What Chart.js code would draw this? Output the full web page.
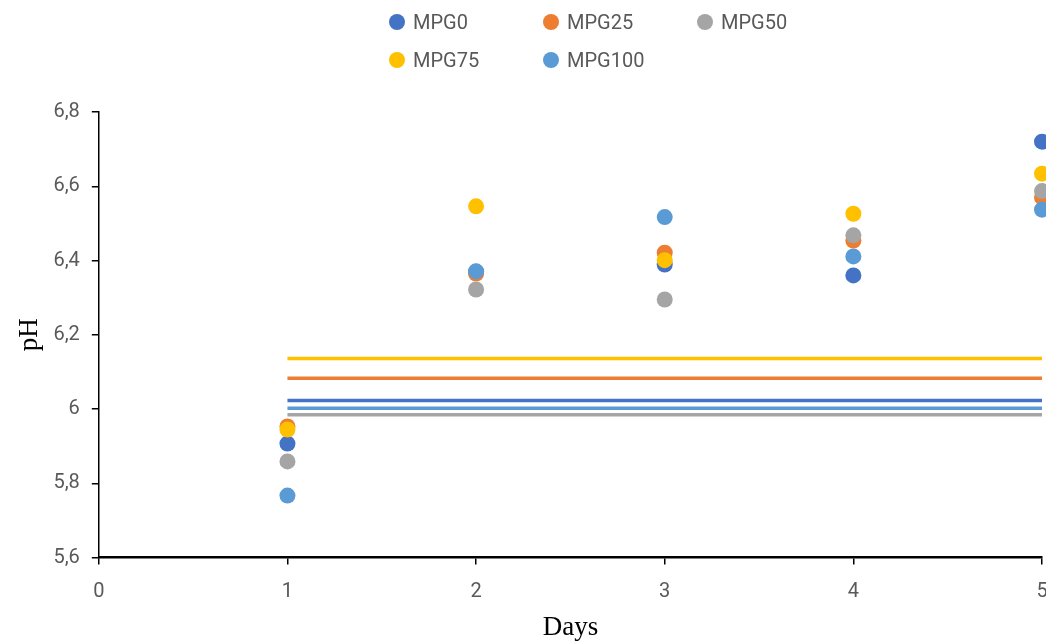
<!DOCTYPE html>
<html lang="en">
<head>
  <meta charset="UTF-8" />
  <title>pH vs Days</title>
  <script src="https://cdn.jsdelivr.net/npm/chart.js"></script>
  <style>
    html, body { margin: 0; padding: 0; background: #fff; }
    #wrap { position: relative; width: 1046px; height: 644px; }
    #legend {
      position: absolute; top: 3px; left: 389px; width: 462px;
      display: flex; flex-wrap: wrap;
      font: 20px 'Roboto', sans-serif; color: #595959;
    }
    .item { width: 154px; height: 38px; display: flex; align-items: center; }
    .dot { width: 16px; height: 16px; border-radius: 50%; margin-right: 8px; }
  </style>
</head>
<body>
  <div id="wrap">
    <canvas id="phChart" width="1046" height="644"></canvas>
    <div id="legend"></div>
  </div>

  <script>
    // data
    const days = [1, 2, 3, 4, 5];
    const seriesNames = ['MPG0', 'MPG25', 'MPG50', 'MPG75', 'MPG100'];
    const mpg0   = [5.907, 6.370, 6.389, 6.360, 6.720];
    const mpg25  = [5.953, 6.365, 6.421, 6.454, 6.570];
    const mpg50  = [5.859, 6.322, 6.295, 6.468, 6.587];
    const mpg75  = [5.945, 6.546, 6.401, 6.526, 6.634];
    const mpg100 = [5.767, 6.371, 6.517, 6.411, 6.537];
    // horizontal reference levels (one per series)
    const refLevels = [6.023, 6.083, 5.985, 6.136, 6.002];
    const yTicks = [5.6, 5.8, 6.0, 6.2, 6.4, 6.6, 6.8];

    const colors = ['#4472C4', '#ED7D31', '#A5A5A5', '#FFC000', '#5B9BD5'];
    const allSeries = [mpg0, mpg25, mpg50, mpg75, mpg100];

    const pointSets = seriesNames.map((name, i) => ({
      label: name,
      data: days.map((d, j) => ({ x: d, y: allSeries[i][j] })),
      backgroundColor: colors[i],
      borderColor: colors[i],
      pointRadius: 8,
      pointHoverRadius: 8,
      borderWidth: 0,
      showLine: false,
      clip: false,
      order: seriesNames.length - 1 - i
    }));

    const lineSets = seriesNames.map((name, i) => ({
      label: name + ' ref',
      data: [{ x: days[0], y: refLevels[i] }, { x: days[days.length - 1], y: refLevels[i] }],
      borderColor: colors[i],
      borderWidth: 3.5,
      pointRadius: 0,
      showLine: true,
      order: 10
    }));

    // legend
    const legendEl = document.getElementById('legend');
    seriesNames.forEach((name, i) => {
      const item = document.createElement('div');
      item.className = 'item';
      item.innerHTML = '<span class="dot" style="background:' + colors[i] + '"></span><span>' + name + '</span>';
      legendEl.appendChild(item);
    });

    const tickFont = { family: "'Roboto', sans-serif", size: 20 };
    const titleFont = { family: "'Liberation Serif', 'Times New Roman', serif", size: 27 };

    new Chart(document.getElementById('phChart'), {
      type: 'scatter',
      data: { datasets: [...pointSets, ...lineSets] },
      options: {
        responsive: false,
        animation: false,
        layout: { autoPadding: false, padding: { top: 112, left: 14, right: 0, bottom: 0 } },
        plugins: { legend: { display: false }, tooltip: { enabled: false } },
        scales: {
          x: {
            type: 'linear', min: 0, max: 5,
            afterFit: axis => { axis.paddingRight = 4; },
            ticks: { stepSize: 1, color: '#595959', font: tickFont, padding: 15 },
            grid: { drawOnChartArea: false, color: '#000', tickLength: 7, lineWidth: 1.5 },
            border: { color: '#000', width: 2.5 },
            title: { display: true, text: 'Days', color: '#000', font: titleFont, padding: { top: -7, bottom: 0 } }
          },
          y: {
            min: 5.6, max: 6.8,
            afterBuildTicks: axis => { axis.ticks = yTicks.map(v => ({ value: v })); },
            ticks: {
              color: '#595959', font: tickFont, padding: 12,
              callback: v => String(+Number(v).toFixed(1)).replace('.', ',')
            },
            grid: { drawOnChartArea: false, color: '#000', tickLength: 7, lineWidth: 1.5 },
            border: { color: '#000', width: 1.5 },
            title: { display: true, text: 'pH', color: '#000', font: titleFont, padding: { top: 0, bottom: -5 } }
          }
        }
      }
    });
  </script>
</body>
</html>
